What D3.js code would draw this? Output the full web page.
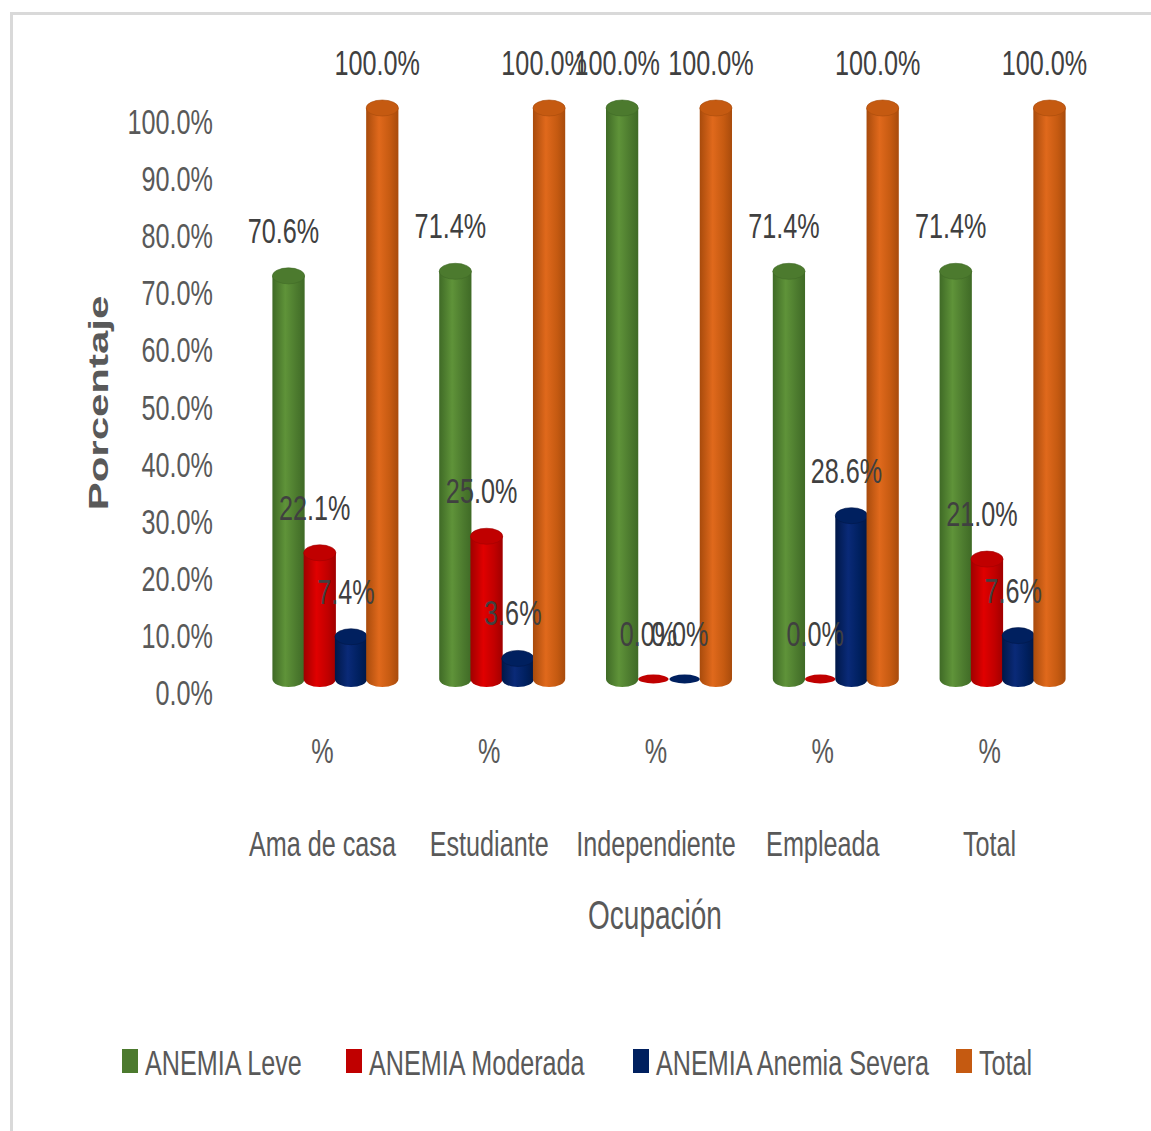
<!DOCTYPE html>
<html>
<head>
<meta charset="utf-8">
<script src="https://cdn.jsdelivr.net/npm/d3@7"></script>
<style>
  body { margin: 0; background: #fff; }
  text { font-family: "Liberation Sans", Arial, sans-serif; }
</style>
</head>
<body>
<script>
const WIDTH = 1151;
const HEIGHT = 1131;
const SX = 0.7; // the source text is squeezed horizontally

const categories = ['Ama de casa', 'Estudiante', 'Independiente', 'Empleada', 'Total'];
const series = ['ANEMIA Leve', 'ANEMIA Moderada', 'ANEMIA Anemia Severa', 'Total'];
const leve = [70.6, 71.4, 100.0, 71.4, 71.4];
const moderada = [22.1, 25.0, 0.0, 0.0, 21.0];
const severa = [7.4, 3.6, 0.0, 28.6, 7.6];
const total = [100.0, 100.0, 100.0, 100.0, 100.0];
const yTicks = [0, 10, 20, 30, 40, 50, 60, 70, 80, 90, 100];

const colors = {
  'ANEMIA Leve': ['#3f6a26', '#5f9339', '#4c7a2e'],
  'ANEMIA Moderada': ['#a00000', '#e00000', '#c00000'],
  'ANEMIA Anemia Severa': ['#001848', '#0a2a78', '#00205f'],
  'Total': ['#a84b0c', '#e0691c', '#c55a11'],
};

const values = [leve, moderada, severa, total];
const rows = [];
categories.forEach((c, i) => {
  series.forEach((s, j) => rows.push({cat: c, series: s, value: values[j][i]}));
});

const svg = d3.select('body').append('svg')
  .attr('width', WIDTH)
  .attr('height', HEIGHT);

// frame
svg.append('rect')
  .attr('x', 11.5).attr('y', 13.5)
  .attr('width', 1300).attr('height', 1300)
  .attr('fill', 'none')
  .attr('stroke', '#d9d9d9')
  .attr('stroke-width', 3);

const x0 = d3.scaleBand().domain(categories).range([252, 1086]);
const groupW = 125;
const x1 = d3.scaleBand().domain(series).range([0, groupW]);
const y = d3.scaleLinear().domain([0, 100]).range([679, 108]);

function barX(d) {
  return x0(d.cat) + (x0.bandwidth() - groupW) / 2 + x1(d.series);
}

function txt(parent, x, yy, str, size, color, anchor) {
  return parent.append('text')
    .attr('transform', `translate(${x},${yy}) scale(${SX},1)`)
    .attr('text-anchor', anchor || 'middle')
    .attr('font-size', size)
    .attr('fill', color)
    .text(str);
}

// gradients for the cylinders
const defs = svg.append('defs');
series.forEach((s, i) => {
  const g = defs.append('linearGradient').attr('id', 'grad' + i)
    .attr('x1', '0%').attr('x2', '100%').attr('y1', '0%').attr('y2', '0%');
  g.append('stop').attr('offset', '0%').attr('stop-color', colors[s][0]);
  g.append('stop').attr('offset', '40%').attr('stop-color', colors[s][1]);
  g.append('stop').attr('offset', '75%').attr('stop-color', colors[s][2]);
  g.append('stop').attr('offset', '100%').attr('stop-color', colors[s][0]);
});

// y tick labels
const yAxis = svg.append('g');
yTicks.forEach(t => {
  txt(yAxis, 213, y(t) + 14 + 12, d3.format('.1f')(t) + '%', 36, '#595959', 'end');
});

// y title
svg.append('text')
  .attr('transform', 'translate(108,403) rotate(-90) scale(1.5,1)')
  .attr('text-anchor', 'middle')
  .attr('font-size', 28)
  .attr('font-weight', 'bold')
  .attr('fill', '#595959')
  .text('Porcentaje');

// cylinders
const ry = 8;
const bars = svg.append('g').selectAll('g')
  .data(rows)
  .enter()
  .append('g');

bars.each(function(d) {
  const g = d3.select(this);
  const w = x1.bandwidth();
  const cx = barX(d) + w / 2;
  const rx = w / 2 + 0.5;
  const top = y(d.value);
  const base = y(0);
  const idx = series.indexOf(d.series);
  if (d.value > 0) {
    g.append('path')
      .attr('d', `M${cx - rx},${top} L${cx - rx},${base} A${rx},${ry} 0 0 0 ${cx + rx},${base} L${cx + rx},${top} Z`)
      .attr('fill', `url(#grad${idx})`);
    g.append('ellipse')
      .attr('cx', cx).attr('cy', top)
      .attr('rx', rx).attr('ry', ry)
      .attr('fill', colors[d.series][2])
      .attr('stroke', colors[d.series][0])
      .attr('stroke-width', 0.6);
  } else {
    g.append('ellipse')
      .attr('cx', cx).attr('cy', base)
      .attr('rx', rx - 1).attr('ry', ry * 0.55)
      .attr('fill', colors[d.series][2]);
  }
});

// data labels
const labels = svg.append('g');
rows.forEach(d => {
  const cx = barX(d) + x1.bandwidth() / 2;
  txt(labels, cx - 5, y(d.value) - 46 + 13, d3.format('.1f')(d.value) + '%', 36, '#404040');
});

// category axis
const xAxis = svg.append('g');
categories.forEach(c => {
  const cx = x0(c) + x0.bandwidth() / 2 - 13;
  txt(xAxis, cx, 763, '%', 36, '#595959');
  txt(xAxis, cx, 856, c, 36, '#595959');
});
txt(svg, 655, 929, 'Ocupación', 40, '#595959');

// legend
const legendPos = [122, 346, 633, 956];
const legend = svg.append('g');
series.forEach((s, i) => {
  legend.append('rect')
    .attr('x', legendPos[i]).attr('y', 1049)
    .attr('width', 16).attr('height', 24)
    .attr('fill', colors[s][2]);
  txt(legend, legendPos[i] + 23, 1075, s, 36, '#595959', 'start');
});
</script>
</body>
</html>
